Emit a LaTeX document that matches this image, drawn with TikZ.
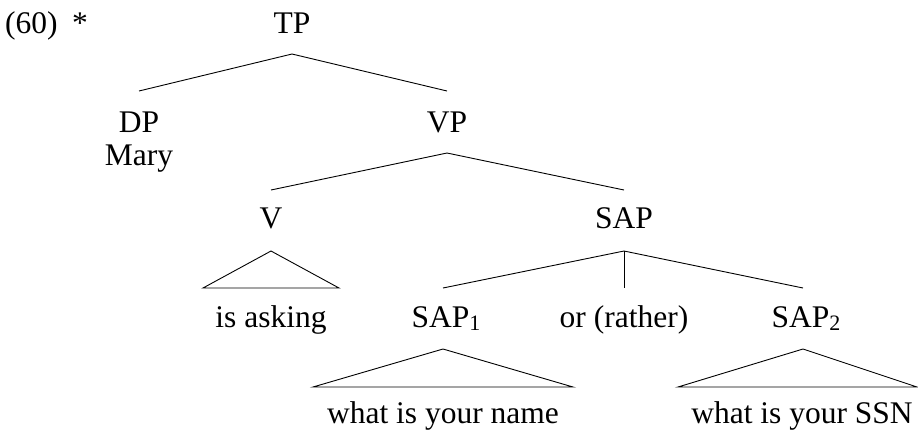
\documentclass[tikz,border=0pt]{standalone}
\usepackage{fontspec}
\setmainfont{Liberation Serif}
\newcommand{\lowidx}[1]{\raisebox{-3.5pt}{\fontsize{22}{24}\selectfont #1}}
\begin{document}
\begin{tikzpicture}[x=1pt,y=-1pt,
  lbl/.style={inner sep=0pt,anchor=base,font=\fontsize{31.5}{36}\selectfont},
  branch/.style={line width=0.9pt,line join=miter}]
\useasboundingbox (0,0) rectangle (918,432);
% labels
\node[lbl,anchor=base west] (ex) at (5,33) {(60)};
\node[lbl] (star) at (80,33) {*};
\node[lbl] (TP) at (292,33) {TP};
\node[lbl] (DP) at (139,132) {DP};
\node[lbl] (Mary) at (139,165) {Mary};
\node[lbl] (VP) at (447,132) {VP};
\node[lbl] (V) at (271,228) {V};
\node[lbl] (SAP) at (624,228) {SAP};
\node[lbl] (isasking) at (271,327) {is asking};
\node[lbl] (SAPa) at (446,327) {SAP\lowidx{1}};
\node[lbl] (or) at (624,327) {or (rather)};
\node[lbl] (SAPb) at (806,327) {SAP\lowidx{2}};
\node[lbl] (name) at (443,423) {what is your name};
\node[lbl] (ssn) at (802,423) {what is your SSN};
% branch end points
\coordinate (tpA) at (292,54);
\coordinate (dpT) at (139,91);
\coordinate (vpT) at (447,91);
\coordinate (vpA) at (447,153);
\coordinate (vT) at (271,190);
\coordinate (sapT) at (624,190);
\coordinate (vA) at (271,251);
\coordinate (vL) at (203,288);
\coordinate (vR) at (339,288);
\coordinate (sapA) at (624,251);
\coordinate (sapaT) at (443,288);
\coordinate (orT) at (624,288);
\coordinate (sapbT) at (803,288);
\coordinate (sapaA) at (443,349);
\coordinate (sapaL) at (313,387);
\coordinate (sapaR) at (573,387);
\coordinate (sapbA) at (803,349);
\coordinate (sapbL) at (678,387);
\coordinate (sapbR) at (917,387);
% branches
\draw[branch] (dpT) -- (tpA) -- (vpT);
\draw[branch] (vT) -- (vpA) -- (sapT);
\draw[branch] (vA) -- (vL) -- (vR) -- cycle;
\draw[branch] (sapaT) -- (sapA) -- (sapbT);
\draw[branch] (sapA) -- (orT);
\draw[branch] (sapaA) -- (sapaL) -- (sapaR) -- cycle;
\draw[branch] (sapbA) -- (sapbL) -- (sapbR) -- cycle;
\end{tikzpicture}
\end{document}
